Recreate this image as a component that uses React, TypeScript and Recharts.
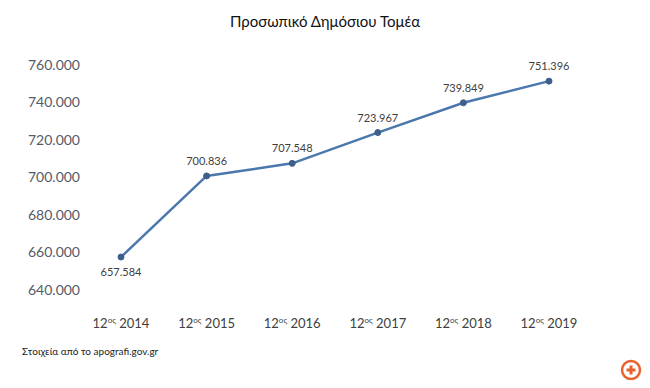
import { LineChart, Line, XAxis, YAxis, LabelList } from 'recharts';

const YEARS = ['2014', '2015', '2016', '2017', '2018', '2019'];
const STAFF = [657584, 700836, 707548, 723967, 739849, 751396];
const Y_TICKS = [640000, 660000, 680000, 700000, 720000, 740000, 760000];

const data = YEARS.map((year, i) => ({ year, staff: STAFF[i] }));

const FONT = 'Lato, "Open Sans", sans-serif';
const LINE = '#4a78ad';
const DOT = '#3d5f8a';

const fmt = (v: number) => v.toLocaleString('en-US').replace(/,/g, '.');

function YearTick({ x, y, payload }: any) {
  return (
    <text x={x} y={y} textAnchor="middle" fill="#404040" fontSize={13} fontFamily={FONT}>
      <tspan dy={30}>12</tspan>
      <tspan dy={-5} fontSize={8}>ος</tspan>
      <tspan dy={5}> {payload.value}</tspan>
    </text>
  );
}

function ValueLabel({ x, y, value, index }: any) {
  const below = index === 0;
  return (
    <text
      x={x}
      y={below ? y + 19 : y - 11}
      textAnchor="middle"
      fill="#404040"
      fontSize={11}
      fontFamily={FONT}
    >
      {fmt(value)}
    </text>
  );
}

export default function App() {
  return (
    <div style={{ position: 'relative', width: 650, height: 388, margin: -8, background: '#fff', fontFamily: FONT }}>
      <div style={{ position: 'absolute', top: 12, left: 0, width: 650, textAlign: 'center', fontSize: 15, color: '#111' }}>
        Προσωπικό Δημόσιου Τομέα
      </div>
      <LineChart width={650} height={388} data={data} margin={{ top: 65, right: 68, left: 0, bottom: 68 }}>
        <XAxis
          dataKey="year"
          axisLine={false}
          tickLine={false}
          height={30}
          padding={{ left: 33, right: 33 }}
          tick={<YearTick />}
          interval={0}
        />
        <YAxis
          domain={[640000, 760000]}
          ticks={Y_TICKS}
          tickFormatter={fmt}
          axisLine={false}
          tickLine={false}
          width={88}
          tickMargin={2}
          tick={{ fill: '#555b66', fontSize: 14, fontFamily: FONT }}
        />
        <Line
          type="linear"
          dataKey="staff"
          stroke={LINE}
          strokeWidth={2.5}
          dot={{ r: 3, fill: DOT, stroke: DOT, strokeWidth: 1 }}
          isAnimationActive={false}
        >
          <LabelList dataKey="staff" content={<ValueLabel />} />
        </Line>
      </LineChart>
      <div style={{ position: 'absolute', top: 345, left: 22, fontSize: 10, color: '#222' }}>
        Στοιχεία από το apografi.gov.gr
      </div>
      <svg style={{ position: 'absolute', left: 620, top: 359 }} width={22} height={22}>
        <circle cx={11} cy={11} r={9} fill="none" stroke="#e8632b" strokeWidth={2.5} />
        <path d="M11 6.5v9M6.5 11h9" stroke="#e8632b" strokeWidth={3} />
      </svg>
    </div>
  );
}
